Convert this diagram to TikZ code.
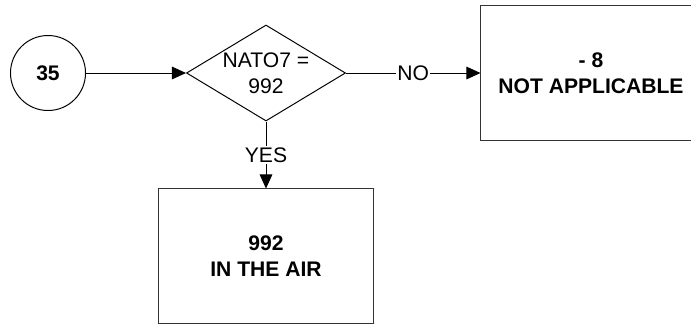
\documentclass[tikz,border=0pt]{standalone}
\usepackage{fontspec}
\setmainfont{Liberation Sans}
\usetikzlibrary{shapes.geometric, arrows.meta, positioning}

\begin{document}
\begin{tikzpicture}[x=0.025cm, y=-0.025cm,
    every node/.style={font=\fontsize{15}{18.5}\selectfont, align=center},
    conn/.style={-{Triangle[length=10pt, width=9pt]}, line width=0.7pt},
    box/.style={draw=black!80, line width=0.7pt, rectangle, minimum height=3.35cm},
    lbl/.style={fill=white, inner sep=1pt}]
    \useasboundingbox (0,0) rectangle (691,324);

    % Start, test and outcomes
    \node[draw, circle, line width=0.7pt, minimum size=1.875cm, inner sep=0pt] (start) at (48,73) {\bfseries 35};
    \node[draw, diamond, line width=0.7pt, minimum width=3.975cm, minimum height=2.4cm, inner sep=0pt] (nato) at (266,73) {};
    \node (natotext) at (nato) {NATO7 =\\992};
    \node[box, minimum width=5.5cm] (notappl) at (591,73) {\bfseries - 8\\\bfseries NOT APPLICABLE};
    \node[box, minimum width=5.375cm] (inair) at (266,256) {\bfseries 992\\\bfseries IN THE AIR};

    % Connectors
    \draw[conn] (start) -- (nato);
    \draw[conn] (nato) -- node[lbl] {NO} (notappl);
    \draw[conn] (nato) -- node[lbl] {YES} (inair);
\end{tikzpicture}
\end{document}
